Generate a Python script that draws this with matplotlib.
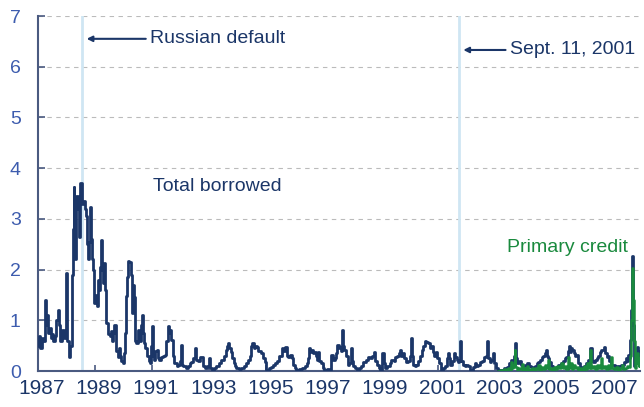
from matplotlib import pyplot as plt
from matplotlib.transforms import ScaledTranslation
import numpy as np

plt.rcParams['font.family'] = ['Liberation Sans', 'DejaVu Sans']

navy = "#1b3668"
green = "#1a8a3e"
pale = "#cfe6f3"

# total borrowed (billions)
tb_year = [
    1987.0, 1987.03, 1987.06, 1987.1, 1987.15, 1987.2, 1987.26, 1987.3, 1987.34, 1987.38,
    1987.42, 1987.46, 1987.5, 1987.55, 1987.6, 1987.66, 1987.7, 1987.74, 1987.8, 1987.86,
    1987.92, 1987.98, 1988.04, 1988.1, 1988.15, 1988.19, 1988.23, 1988.26, 1988.29, 1988.32,
    1988.36, 1988.4, 1988.44, 1988.47, 1988.5, 1988.55, 1988.6, 1988.65, 1988.7, 1988.74,
    1988.77, 1988.8, 1988.83, 1988.87, 1988.92, 1988.95, 1988.98, 1989.03, 1989.07, 1989.11,
    1989.15, 1989.18, 1989.22, 1989.26, 1989.3, 1989.33, 1989.37, 1989.41, 1989.47, 1989.52,
    1989.57, 1989.61, 1989.65, 1989.69, 1989.73, 1989.76, 1989.8, 1989.84, 1989.88, 1989.93,
    1989.97, 1990.01, 1990.05, 1990.08, 1990.12, 1990.17, 1990.21, 1990.25, 1990.29, 1990.32,
    1990.34, 1990.37, 1990.4, 1990.44, 1990.5, 1990.56, 1990.6, 1990.64, 1990.68, 1990.72,
    1990.77, 1990.82, 1990.88, 1990.94, 1990.98, 1991.01, 1991.04, 1991.08, 1991.12, 1991.16,
    1991.2, 1991.25, 1991.3, 1991.38, 1991.45, 1991.5, 1991.56, 1991.6, 1991.64, 1991.68,
    1991.72, 1991.78, 1991.86, 1991.92, 1991.97, 1992.01, 1992.04, 1992.1, 1992.18, 1992.26,
    1992.32, 1992.38, 1992.44, 1992.49, 1992.53, 1992.6, 1992.68, 1992.73, 1992.79, 1992.86,
    1992.93, 1992.98, 1993.02, 1993.1, 1993.18, 1993.25, 1993.33, 1993.42, 1993.5, 1993.58,
    1993.62, 1993.66, 1993.7, 1993.75, 1993.8, 1993.85, 1993.89, 1993.95, 1994.05, 1994.12,
    1994.2, 1994.28, 1994.35, 1994.42, 1994.47, 1994.5, 1994.55, 1994.6, 1994.66, 1994.72,
    1994.8, 1994.88, 1994.95, 1995.0, 1995.08, 1995.15, 1995.22, 1995.3, 1995.38, 1995.45,
    1995.53, 1995.58, 1995.64, 1995.7, 1995.76, 1995.82, 1995.88, 1995.93, 1996.0, 1996.04,
    1996.15, 1996.25, 1996.33, 1996.4, 1996.45, 1996.48, 1996.52, 1996.57, 1996.62, 1996.67,
    1996.72, 1996.76, 1996.8, 1996.85, 1996.9, 1996.96, 1997.01, 1997.1, 1997.18, 1997.24,
    1997.27, 1997.32, 1997.38, 1997.43, 1997.47, 1997.52, 1997.57, 1997.6, 1997.64, 1997.68,
    1997.72, 1997.78, 1997.85, 1997.9, 1997.94, 1997.98, 1998.04, 1998.1, 1998.17, 1998.24,
    1998.3, 1998.38, 1998.46, 1998.55, 1998.62, 1998.7, 1998.76, 1998.8, 1998.86, 1998.92,
    1998.95, 1999.02, 1999.05, 1999.1, 1999.15, 1999.22, 1999.3, 1999.36, 1999.44, 1999.5,
    1999.56, 1999.62, 1999.66, 1999.7, 1999.76, 1999.82, 1999.89, 1999.95, 2000.02, 2000.04,
    2000.08, 2000.13, 2000.2, 2000.24, 2000.3, 2000.36, 2000.42, 2000.47, 2000.53, 2000.58,
    2000.64, 2000.7, 2000.76, 2000.81, 2000.87, 2000.92, 2000.97, 2001.02, 2001.08, 2001.11,
    2001.18, 2001.24, 2001.3, 2001.34, 2001.38, 2001.42, 2001.48, 2001.55, 2001.6, 2001.65,
    2001.7, 2001.74, 2001.77, 2001.8, 2001.85, 2001.92, 2001.98, 2002.04, 2002.1, 2002.17,
    2002.22, 2002.27, 2002.33, 2002.4, 2002.47, 2002.53, 2002.6, 2002.66, 2002.7, 2002.74,
    2002.8, 2002.86, 2002.91, 2002.96, 2003.03, 2003.1, 2003.2, 2003.3, 2003.4, 2003.47,
    2003.53, 2003.58, 2003.64, 2003.67, 2003.71, 2003.76, 2003.82, 2003.9, 2003.96, 2004.04,
    2004.1, 2004.17, 2004.24, 2004.3, 2004.37, 2004.44, 2004.5, 2004.57, 2004.62, 2004.67,
    2004.72, 2004.76, 2004.8, 2004.84, 2004.88, 2004.94, 2005.0, 2005.06, 2005.12, 2005.2,
    2005.28, 2005.35, 2005.42, 2005.47, 2005.52, 2005.56, 2005.6, 2005.64, 2005.68, 2005.73,
    2005.78, 2005.82, 2005.88, 2005.95, 2006.02, 2006.1, 2006.18, 2006.24, 2006.28, 2006.32,
    2006.36, 2006.42, 2006.48, 2006.54, 2006.6, 2006.65, 2006.7, 2006.74, 2006.78, 2006.83,
    2006.88, 2006.93, 2006.98, 2007.05, 2007.1, 2007.18, 2007.25, 2007.32, 2007.4, 2007.45,
    2007.5, 2007.56, 2007.6, 2007.64, 2007.68, 2007.71, 2007.74, 2007.77, 2007.8, 2007.82,
    2007.85, 2007.88, 2007.91, 2007.94, 2007.97, 2008.0, 2008.03,
]
tb_value = [
    0.6, 0.5, 0.7, 0.45, 0.65, 0.6, 1.4, 0.9, 1.1, 0.75,
    0.85, 0.65, 0.72, 0.6, 0.7, 1.0, 1.2, 0.9, 0.6, 0.8,
    0.65, 1.94, 0.6, 0.28, 0.5, 1.9, 2.8, 3.63, 2.25, 2.2,
    3.45, 3.2, 2.65, 3.6, 3.7, 3.3, 3.35, 3.2, 3.05, 2.5,
    2.2, 2.55, 3.24, 2.6, 2.2, 2.0, 1.35, 1.5, 1.28, 1.8,
    1.6, 2.05, 2.58, 2.0, 1.73, 2.12, 1.6, 0.94, 0.72, 0.7,
    0.78, 0.6, 0.74, 0.9, 0.55, 0.4, 0.28, 0.45, 0.3, 0.2,
    0.15, 0.35, 0.74, 1.47, 1.85, 2.16, 2.15, 1.9, 1.14, 1.2,
    1.7, 1.45, 0.6, 0.55, 0.8, 0.6, 0.9, 1.1, 0.75, 0.55,
    0.45, 0.3, 0.2, 0.15, 0.5, 0.88, 0.3, 0.22, 0.4, 0.42,
    0.25, 0.22, 0.28, 0.3, 0.32, 0.6, 0.88, 0.75, 0.8, 0.62,
    0.3, 0.15, 0.09, 0.12, 0.2, 0.51, 0.12, 0.1, 0.06, 0.09,
    0.15, 0.18, 0.25, 0.45, 0.22, 0.2, 0.28, 0.28, 0.09, 0.06,
    0.1, 0.25, 0.05, 0.02, 0.05, 0.09, 0.15, 0.22, 0.3, 0.42,
    0.5, 0.55, 0.45, 0.38, 0.25, 0.15, 0.09, 0.05, 0.03, 0.05,
    0.1, 0.15, 0.22, 0.3, 0.5, 0.55, 0.45, 0.5, 0.48, 0.4,
    0.35, 0.25, 0.18, 0.02, 0.05, 0.08, 0.12, 0.15, 0.2, 0.3,
    0.45, 0.4, 0.48, 0.3, 0.28, 0.32, 0.25, 0.12, 0.05, 0.02,
    0.03, 0.05, 0.1, 0.15, 0.25, 0.45, 0.38, 0.42, 0.35, 0.38,
    0.3, 0.22, 0.38, 0.2, 0.15, 0.05, 0.02, 0.03, 0.02, 0.1,
    0.32, 0.22, 0.25, 0.35, 0.51, 0.45, 0.48, 0.4, 0.8, 0.5,
    0.41, 0.3, 0.12, 0.15, 0.45, 0.2, 0.09, 0.05, 0.02, 0.05,
    0.1, 0.18, 0.22, 0.28, 0.25, 0.3, 0.38, 0.2, 0.12, 0.05,
    0.02, 0.1, 0.35, 0.15, 0.05, 0.1, 0.15, 0.22, 0.2, 0.28,
    0.3, 0.35, 0.41, 0.3, 0.35, 0.25, 0.18, 0.2, 0.3, 0.65,
    0.3, 0.12, 0.1, 0.12, 0.2, 0.3, 0.41, 0.5, 0.6, 0.58,
    0.55, 0.45, 0.5, 0.38, 0.3, 0.38, 0.25, 0.15, 0.05, 0.02,
    0.05, 0.1, 0.25, 0.35, 0.25, 0.12, 0.2, 0.35, 0.28, 0.22,
    0.18, 0.2, 0.6, 0.2, 0.12, 0.1, 0.12, 0.09, 0.02, 0.0,
    0.08, 0.15, 0.09, 0.12, 0.18, 0.2, 0.28, 0.3, 0.6, 0.25,
    0.18, 0.22, 0.35, 0.15, 0.05, 0.02, 0.02, 0.05, 0.08, 0.15,
    0.22, 0.15, 0.3, 0.55, 0.25, 0.15, 0.2, 0.12, 0.09, 0.12,
    0.15, 0.1, 0.08, 0.05, 0.1, 0.15, 0.18, 0.22, 0.28, 0.3,
    0.35, 0.41, 0.3, 0.25, 0.18, 0.09, 0.05, 0.05, 0.08, 0.12,
    0.15, 0.2, 0.25, 0.28, 0.4, 0.49, 0.38, 0.45, 0.42, 0.35,
    0.3, 0.31, 0.15, 0.08, 0.05, 0.1, 0.15, 0.22, 0.2, 0.45,
    0.2, 0.18, 0.22, 0.25, 0.3, 0.38, 0.41, 0.42, 0.47, 0.35,
    0.28, 0.3, 0.2, 0.12, 0.12, 0.08, 0.09, 0.1, 0.12, 0.12,
    0.18, 0.25, 0.2, 0.31, 0.25, 0.61, 1.2, 2.26, 1.6, 0.9,
    0.09, 0.2, 0.3, 0.48, 0.3, 0.22, 0.4,
]

# primary credit, from 2003
pc_year = [
    2003.08, 2003.15, 2003.22, 2003.3, 2003.38, 2003.45, 2003.5, 2003.55, 2003.58, 2003.63,
    2003.67, 2003.7, 2003.75, 2003.8, 2003.86, 2003.92, 2003.95, 2004.0, 2004.05, 2004.1,
    2004.15, 2004.2, 2004.26, 2004.32, 2004.38, 2004.44, 2004.5, 2004.55, 2004.6, 2004.66,
    2004.72, 2004.76, 2004.82, 2004.86, 2004.92, 2004.98, 2005.04, 2005.1, 2005.16, 2005.22,
    2005.3, 2005.35, 2005.42, 2005.47, 2005.53, 2005.57, 2005.62, 2005.67, 2005.72, 2005.78,
    2005.84, 2005.9, 2005.96, 2006.02, 2006.08, 2006.14, 2006.2, 2006.26, 2006.31, 2006.35,
    2006.42, 2006.48, 2006.55, 2006.62, 2006.69, 2006.73, 2006.8, 2006.86, 2006.92, 2006.98,
    2007.04, 2007.08, 2007.14, 2007.2, 2007.28, 2007.35, 2007.42, 2007.46, 2007.52, 2007.58,
    2007.64, 2007.7, 2007.74, 2007.77, 2007.8, 2007.83, 2007.86, 2007.9, 2007.94, 2007.97,
    2008.0, 2008.03,
]
pc_value = [
    0.0, 0.02, 0.01, 0.03, 0.02, 0.05, 0.02, 0.18, 0.05, 0.12,
    0.41, 0.08, 0.02, 0.05, 0.03, 0.13, 0.02, 0.05, 0.02, 0.1,
    0.03, 0.02, 0.06, 0.02, 0.05, 0.03, 0.12, 0.02, 0.08, 0.03,
    0.12, 0.05, 0.22, 0.03, 0.05, 0.02, 0.08, 0.03, 0.1, 0.05,
    0.15, 0.05, 0.1, 0.03, 0.28, 0.05, 0.15, 0.03, 0.12, 0.05,
    0.08, 0.02, 0.05, 0.02, 0.1, 0.03, 0.15, 0.05, 0.41, 0.05,
    0.1, 0.03, 0.12, 0.05, 0.25, 0.05, 0.1, 0.03, 0.12, 0.05,
    0.28, 0.05, 0.03, 0.08, 0.02, 0.05, 0.12, 0.03, 0.05, 0.1,
    0.08, 0.3, 1.0, 2.03, 1.4, 0.6, 0.05, 0.15, 0.35, 0.2,
    0.1, 0.25,
]

events = [1988.57, 2001.73]
year_ticks = np.arange(1987, 2008, 2)

fig = plt.figure(figsize=(6.44, 4.07), dpi=100)
ax = fig.add_axes([37.5 / 644, 1 - 371 / 407, (640 - 37.5) / 644, (371 - 16) / 407])

for e in events:
    ax.axvline(e, color=pale, lw=2, zorder=1)

ax.plot(tb_year, tb_value, color=navy, lw=2, drawstyle="steps-post", zorder=3)
ax.plot(pc_year, pc_value, color=green, lw=1.8, drawstyle="steps-post", zorder=4)

ax.set_xlim(1987, 2008.05)
ax.set_ylim(0, 7)
ax.set_yticks(range(8))
ax.set_xticks(year_ticks)
ax.set_xticklabels([str(y) for y in year_ticks])
ax.yaxis.grid(True, color="#bbbbbb", ls=(0, (4, 4)), lw=0.8)
ax.set_axisbelow(True)

for s in ["top", "right"]:
    ax.spines[s].set_visible(False)
for s in ["left", "bottom"]:
    ax.spines[s].set_color("#4a5a80")
    ax.spines[s].set_linewidth(1.5)

ax.tick_params(axis="y", direction="in", length=5, width=1.2, color="#4a5a80",
               labelsize=14, labelcolor="#3d5cae", pad=12)
ax.tick_params(axis="x", direction="in", length=4, width=1.2, color="#4a5a80",
               labelsize=15, labelcolor=navy, pad=6)
shift = ScaledTranslation(4 / 100, 0, fig.dpi_scale_trans)
for lab in ax.get_xticklabels():
    lab.set_transform(lab.get_transform() + shift)

ax.annotate("", xy=(1988.62, 6.55), xytext=(1990.88, 6.55),
            arrowprops=dict(arrowstyle="-|>", color=navy, lw=1.5, mutation_scale=8))
ax.text(1990.93, 6.55, "Russian default", color=navy, fontsize=14, va="center", ha="left")

ax.annotate("", xy=(2001.78, 6.33), xytext=(2003.45, 6.33),
            arrowprops=dict(arrowstyle="-|>", color=navy, lw=1.5, mutation_scale=8))
ax.text(2003.52, 6.33, "Sept. 11, 2001", color=navy, fontsize=14, va="center", ha="left")

ax.text(1991.03, 3.63, "Total borrowed", color=navy, fontsize=14, va="center", ha="left")
ax.text(2003.39, 2.43, "Primary credit", color=green, fontsize=14, va="center", ha="left")

fig.savefig("out.png", dpi=100)
